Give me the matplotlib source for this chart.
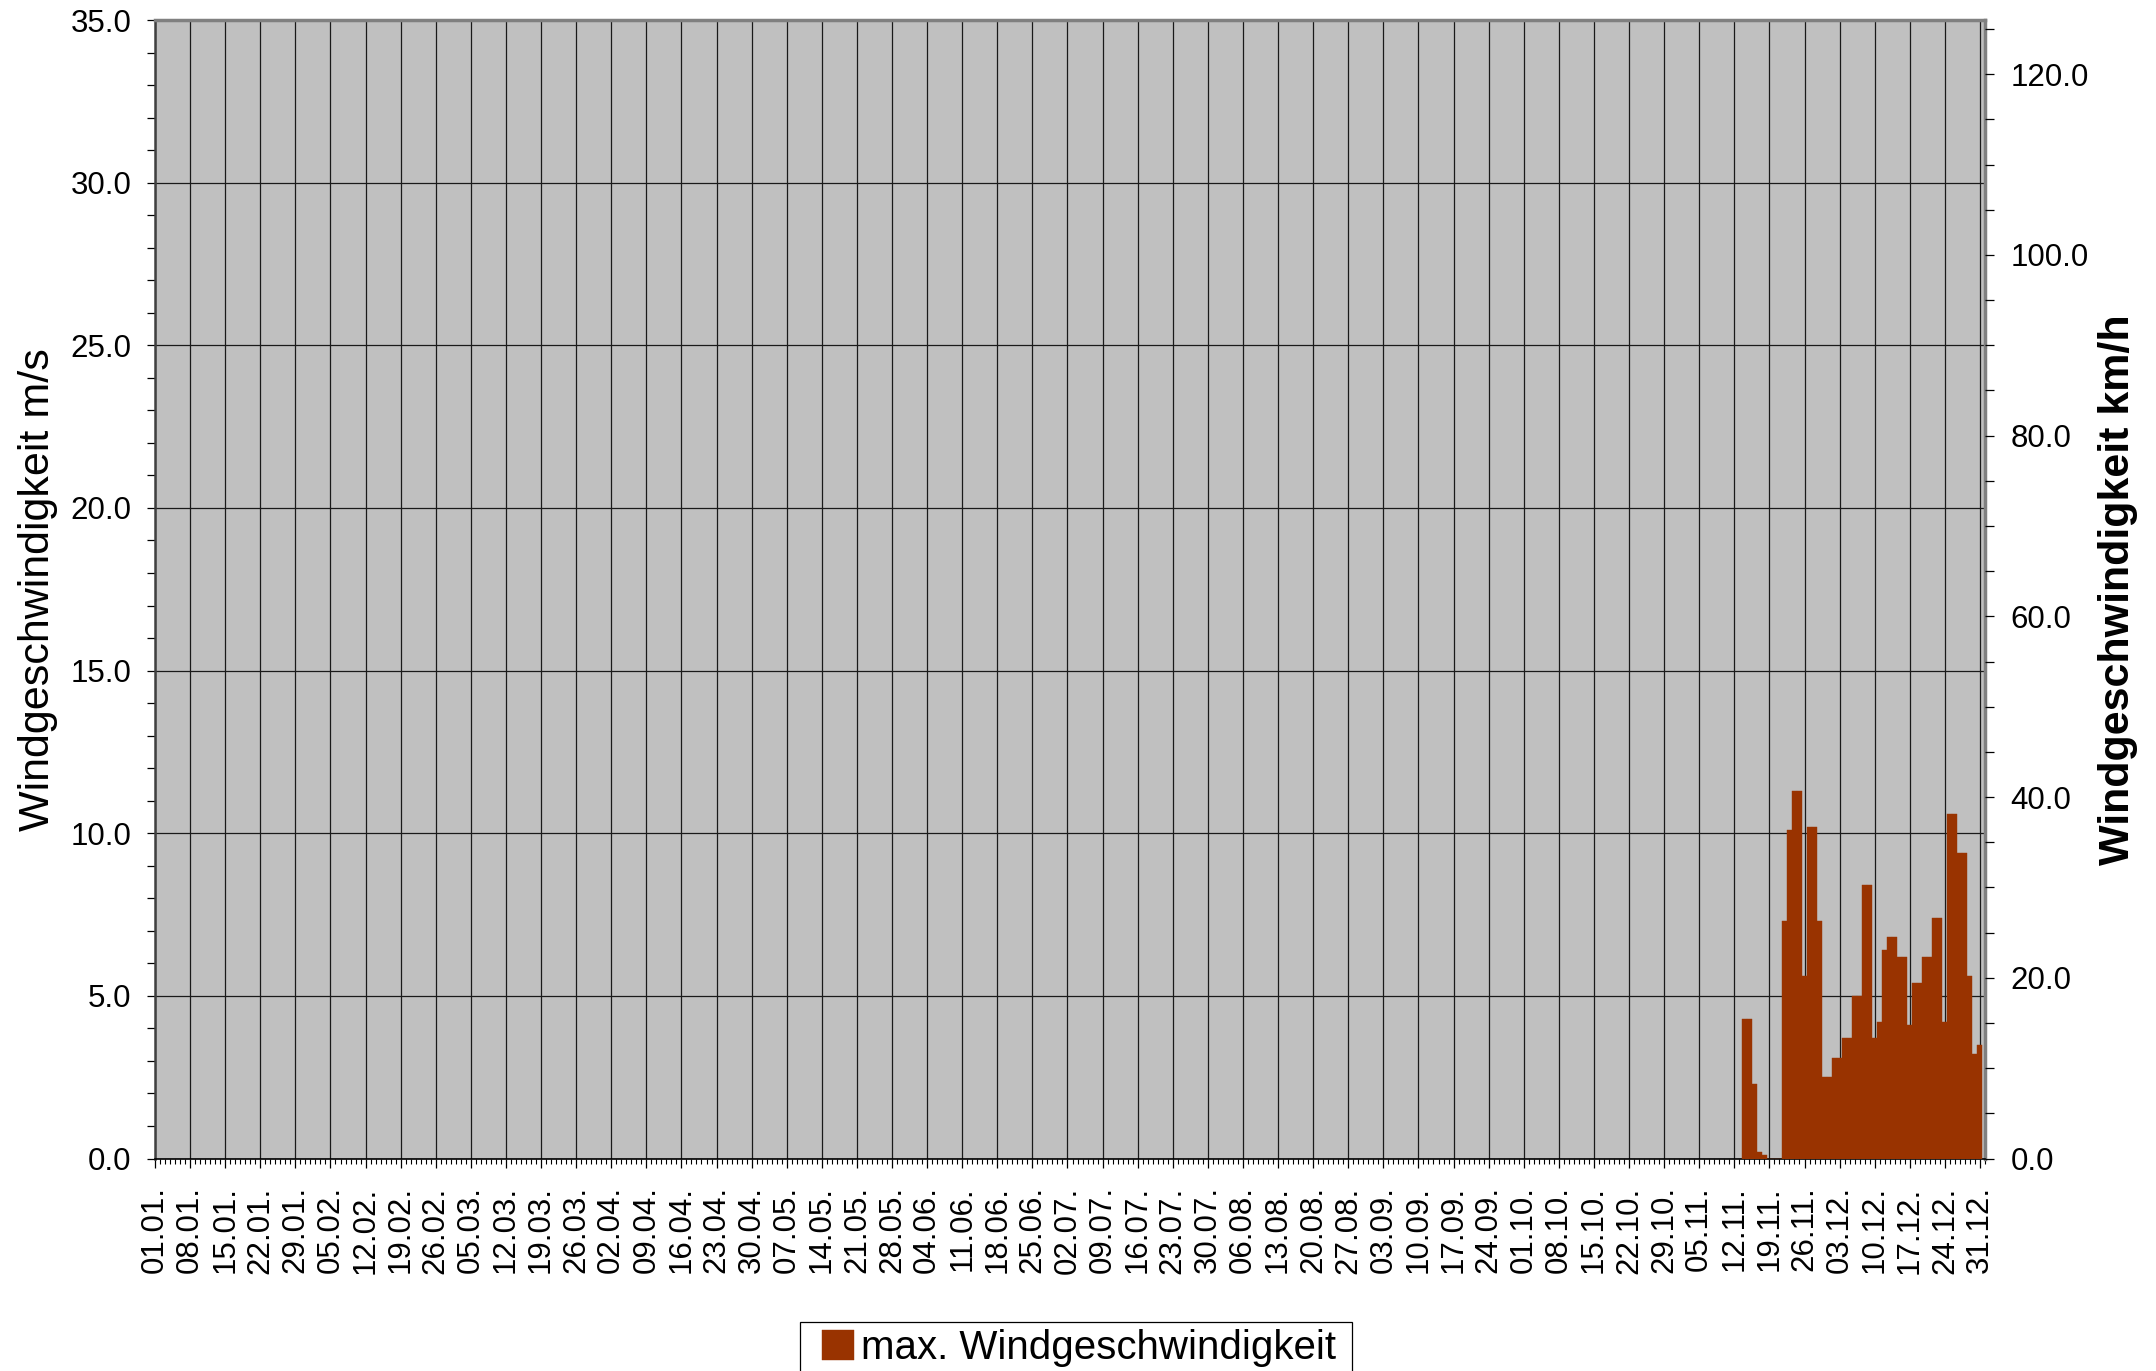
import matplotlib
matplotlib.use("Agg")
import matplotlib.pyplot as plt
from matplotlib.ticker import MultipleLocator, FixedLocator, FormatStrFormatter
from matplotlib.patches import Rectangle
import numpy as np

plt.rcParams['font.family'] = ['Liberation Sans', 'DejaVu Sans']

# ---------------- data ----------------
n_days = 365
week_labels = [
    "01.01.", "08.01.", "15.01.", "22.01.", "29.01.", "05.02.", "12.02.", "19.02.", "26.02.",
    "05.03.", "12.03.", "19.03.", "26.03.", "02.04.", "09.04.", "16.04.", "23.04.", "30.04.",
    "07.05.", "14.05.", "21.05.", "28.05.", "04.06.", "11.06.", "18.06.", "25.06.", "02.07.",
    "09.07.", "16.07.", "23.07.", "30.07.", "06.08.", "13.08.", "20.08.", "27.08.", "03.09.",
    "10.09.", "17.09.", "24.09.", "01.10.", "08.10.", "15.10.", "22.10.", "29.10.", "05.11.",
    "12.11.", "19.11.", "26.11.", "03.12.", "10.12.", "17.12.", "24.12.", "31.12.",
]
# first day with data: 14.11. (day index 317 of the year)
first_data_day = 317
max_wind_ms = [
    4.3, 4.3, 2.3, 0.2, 0.1, 0.0, 0.0, 0.0,      # 14.11. - 21.11.
    7.3, 10.1, 11.3, 11.3, 5.6, 10.2, 10.2,      # 22.11. - 28.11.
    7.3, 2.5, 2.5, 3.1, 3.1, 3.7, 3.7,           # 29.11. - 05.12.
    5.0, 5.0, 8.4, 8.4, 3.7, 4.2, 6.4,           # 06.12. - 12.12.
    6.8, 6.8, 6.2, 6.2, 4.1, 5.4, 5.4,           # 13.12. - 19.12.
    6.2, 6.2, 7.4, 7.4, 4.2, 10.6, 10.6,         # 20.12. - 26.12.
    9.4, 9.4, 5.6, 3.2, 3.5,                     # 27.12. - 31.12.
]
legend_label = "max. Windgeschwindigkeit"

# ---------------- figure ----------------
W, H = 2156, 1371
fig = plt.figure(figsize=(W / 100, H / 100), dpi=100)
fig.patch.set_facecolor('white')

left_px, right_px, top_px, bottom_px = 155, 1985, 20, 1158.5
ax = fig.add_axes([left_px / W, 1 - bottom_px / H,
                   (right_px - left_px) / W, (bottom_px - top_px) / H])
ax.set_facecolor('#C0C0C0')
ax.set_axisbelow(True)

x = np.arange(first_data_day, first_data_day + len(max_wind_ms))
bars = ax.bar(x, max_wind_ms, width=1.0, align='center', color='#993300',
              edgecolor='#993300', linewidth=0.3, zorder=3, label=legend_label)

ax.set_xlim(0, n_days)
ax.set_ylim(0, 35)

week_pos = np.arange(0, n_days, 7)
ax.xaxis.set_major_locator(FixedLocator(week_pos))
ax.set_xticklabels(week_labels, rotation=90, fontsize=22.5)
ax.xaxis.set_minor_locator(MultipleLocator(1))

ax.yaxis.set_major_locator(MultipleLocator(5))
ax.yaxis.set_minor_locator(MultipleLocator(1))
ax.yaxis.set_major_formatter(FormatStrFormatter('%.1f'))

ax.tick_params(axis='x', which='major', length=6.5, width=0.9, direction='out', pad=13.5, labelsize=22.5)
ax.tick_params(axis='x', which='minor', length=3.6, width=0.8, direction='out')
ax.tick_params(axis='y', which='both', length=5.8, width=0.9, direction='out', pad=11, labelsize=22.5)

ax.grid(True, which='major', axis='both', color='#1a1a1a', linewidth=0.9)

for s in ['top', 'right']:
    ax.spines[s].set_color('#808080')
    ax.spines[s].set_linewidth(2.5)
ax.spines['left'].set_color('#404040')
ax.spines['left'].set_linewidth(1.8)
ax.spines['bottom'].set_color('black')
ax.spines['bottom'].set_linewidth(1.2)

ax.set_ylabel("Windgeschwindigkeit m/s", fontsize=31)
ax.yaxis.set_label_coords(-0.053, 0.5)

# right axis (km/h)
ax2 = ax.twinx()
ax2.set_ylim(0, 35 * 3.6)
ax2.yaxis.set_major_locator(MultipleLocator(20))
ax2.yaxis.set_minor_locator(MultipleLocator(5))
ax2.yaxis.set_major_formatter(FormatStrFormatter('%.1f'))
ax2.tick_params(axis='y', which='both', length=6.2, width=0.9, direction='out', pad=12, labelsize=22.5)
for s in ['top', 'right', 'left', 'bottom']:
    ax2.spines[s].set_visible(False)
ax2.set_ylabel("Windgeschwindigkeit km/h", fontsize=31, fontweight='bold')
ax2.yaxis.set_label_coords(1.0617, 0.5)

# legend box (partially cut off at the bottom edge as in the original)
box_left, box_right, box_top = 800, 1352, 1322
fig.add_artist(Rectangle((box_left / W, -0.02), (box_right - box_left) / W,
                         (H - box_top) / H + 0.02, transform=fig.transFigure,
                         facecolor='white', edgecolor='black', linewidth=0.9, zorder=5))
leg = fig.legend(handles=[bars], labels=[legend_label], loc='upper left',
                 bbox_to_anchor=(822 / W, 1 - (box_top + 7) / H), fontsize=29,
                 frameon=False, borderpad=0.0,
                 handlelength=0.8, handleheight=0.8, handletextpad=0.18,
                 borderaxespad=0)
leg.set_zorder(6)

fig.savefig("out.png", dpi=100, facecolor='white')
